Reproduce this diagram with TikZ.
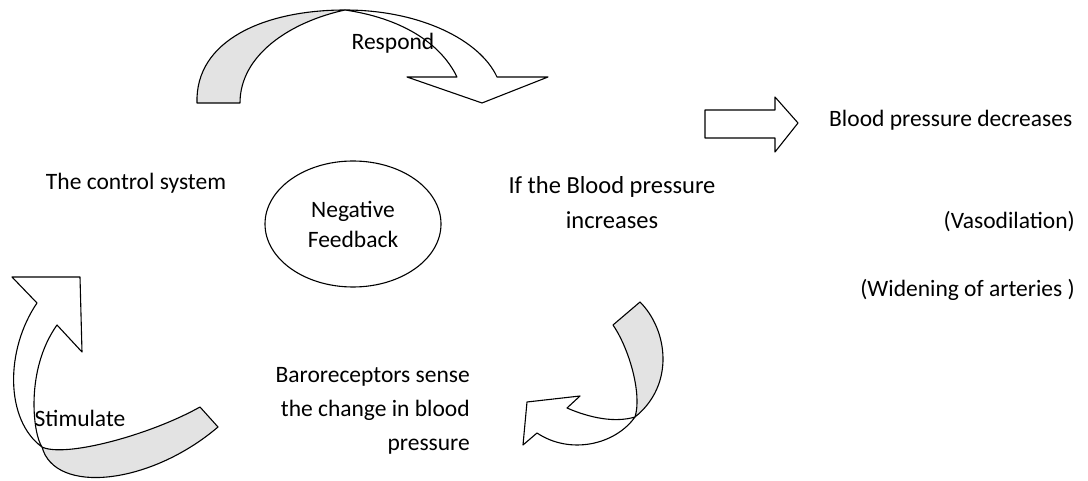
\documentclass[tikz,border=0pt]{standalone}
\usepackage{fontspec}
\setmainfont{Carlito}
\usepackage{tikz}
\usetikzlibrary{shapes.geometric}

\begin{document}
\begin{tikzpicture}[x=1pt, y=-1pt,
    lbl/.style={inner sep=0pt, font=\fontsize{23.5}{34}\selectfont},
    band/.style={fill=gray!22, draw=black, line width=1.1pt, line join=round},
    plain/.style={fill=white, draw=black, line width=1.1pt, line join=round}]
    \useasboundingbox (0,0) rectangle (1088,481);

    % texts
    \node[lbl] (ctrl) at (136,183) {The control system};
    \node[lbl, draw, ellipse, line width=1.1pt, minimum width=176pt, minimum height=126pt, align=center,
          font=\fontsize{23.5}{30}\selectfont] (neg) at (353,224) {Negative\\Feedback};
    \node[lbl, align=center, font=\fontsize{24.5}{35}\selectfont] (ifbp) at (612,203) {If the Blood pressure\\increases};
    \node[lbl, align=right, anchor=east] (baro) at (470,411) {Baroreceptors sense\\the change in blood\\pressure};
    \node[lbl, anchor=west] (bpdec) at (829,120) {Blood pressure decreases};
    \node[lbl, anchor=east] (vaso) at (1075,222) {(Vasodilation)};
    \node[lbl, anchor=east] (widen) at (1075,290) {(Widening of arteries )};

    % top arrow: respond
    \draw[band] (197,103) .. controls (195,40) and (265,10) .. (345,10)
        .. controls (290,22) and (240,55) .. (240,103) -- cycle;
    \draw[plain] (345,10) .. controls (420,10) and (480,40) .. (497,77) -- (548,77) -- (482,103)
        -- (407,77) -- (457,77) .. controls (440,42) and (400,18) .. cycle;
    \node[lbl] (resp) at (393,43) {Respond};

    % right block arrow
    \draw[plain] (705,110) -- (775,110) -- (775,97) -- (798,123) -- (775,152) -- (775,138)
        -- (705,138) -- cycle;

    % bottom right arrow: sense
    \draw[band] (613,325) .. controls (630,350) and (642,395) .. (635,417)
        .. controls (675,385) and (668,330) .. (640,302) -- cycle;
    \draw[plain] (635,417) .. controls (615,423) and (590,418) .. (567,408) -- (580,396) -- (527,402)
        -- (523,445) -- (537,433) .. controls (570,455) and (615,445) .. cycle;

    % bottom left arrow: stimulate
    \draw[band] (42,447) .. controls (65,458) and (150,435) .. (200,407) -- (218,427)
        .. controls (150,485) and (55,495) .. cycle;
    \draw[plain] (37,303) .. controls (5,350) and (5,420) .. (42,447)
        .. controls (33,434) and (25,370) .. (57,325) -- (82,352) -- (80,277) -- (12,277) -- cycle;
    \node[lbl] (stim) at (80,418) {Stimulate};
\end{tikzpicture}
\end{document}
